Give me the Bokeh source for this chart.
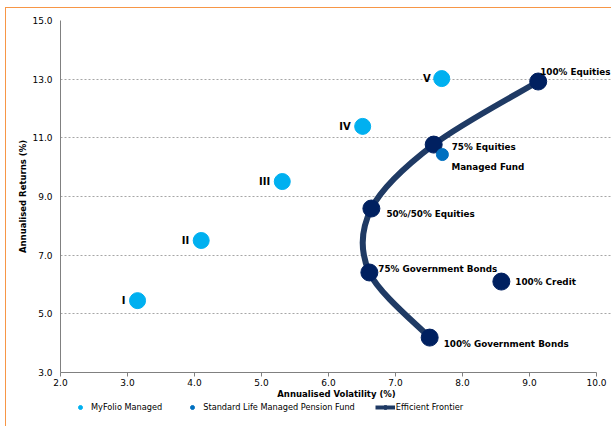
from bokeh.plotting import figure
from bokeh.layouts import column
from bokeh.models import (ColumnDataSource, FixedTicker, NumeralTickFormatter, Legend,
                          LegendItem, Range1d)
from bokeh.core.properties import value
from bokeh.embed import file_html
from bokeh.resources import INLINE

# ---- data ----
myfolio_labels = ["I", "II", "III", "IV", "V"]
myfolio_vol = [3.15, 4.10, 5.31, 6.51, 7.69]
myfolio_ret = [5.45, 7.50, 9.51, 11.39, 13.02]

managed_labels = ["Managed Fund"]
managed_vol = [7.70]
managed_ret = [10.43]

frontier_labels = ["100% Equities", "75% Equities", "50%/50% Equities",
                   "75% Government Bonds", "100% Government Bonds"]
frontier_vol = [9.13, 7.57, 6.64, 6.61, 7.51]
frontier_ret = [12.92, 10.77, 8.59, 6.41, 4.19]

credit_labels = ["100% Credit"]
credit_vol = [8.58]
credit_ret = [6.10]

x_ticks = [2, 3, 4, 5, 6, 7, 8, 9, 10]
y_ticks = [3, 5, 7, 9, 11, 13, 15]

# label offsets (screen px)
myfolio_dx = [-12, -12, -12, -12, -11]
myfolio_dy = [0, 0, 0, 0, 0]
frontier_dx = [2, 18, 15, 9, 14]
frontier_dy = [-10, 2, 5, -3, 6]

FONT = "DejaVu Sans"
NAVY = "#002060"
LINE = "#1F3A64"
LIGHT = "#00B0F0"
MID = "#0070C0"
ORANGE = "#F79646"
LBL = "8.8px"

# frame spans 10.0 at 536px per 8 units; extra room on the right for labels
x_end = 2 + 552 * 8 / 536

p = figure(width=606, height=394, x_range=Range1d(2, x_end), y_range=Range1d(3, 15),
           output_backend="svg", toolbar_location=None,
           min_border_left=54, min_border_right=0, min_border_top=12, min_border_bottom=30)
p.styles = {"margin-left": "5px", "margin-top": "7px",
            "border-left": "1px solid " + ORANGE, "border-top": "1px solid " + ORANGE}
p.outline_line_color = None
p.background_fill_color = "white"
p.border_fill_color = "white"

# axes
for ax in (p.xaxis[0], p.yaxis[0]):
    ax.axis_line_color = "#808080"
    ax.major_tick_line_color = "#808080"
    ax.minor_tick_line_color = None
    ax.major_label_text_font = FONT
    ax.major_label_text_font_size = "9px"
    ax.major_label_text_color = "#000000"
    ax.axis_label_text_font = FONT
    ax.axis_label_text_font_size = "8.5px"
    ax.axis_label_text_font_style = "bold"
    ax.axis_label_text_color = "#000000"
    ax.formatter = NumeralTickFormatter(format="0.0")
p.xaxis.ticker = FixedTicker(ticks=x_ticks)
p.yaxis.ticker = FixedTicker(ticks=y_ticks)
p.xaxis.bounds = (2, 10)
p.xaxis.major_tick_in = 0
p.xaxis.major_tick_out = 4
p.yaxis.major_tick_in = 0
p.yaxis.major_tick_out = 0
p.xaxis.axis_label = "Annualised Volatility (%)"
p.yaxis.axis_label = "Annualised Returns (%)"
p.xaxis.major_label_standoff = 2
p.xaxis.axis_label_standoff = 0
p.yaxis.major_label_standoff = 8
p.yaxis.axis_label_standoff = 1

p.xgrid.visible = False
p.ygrid.ticker = FixedTicker(ticks=y_ticks)
p.ygrid.bounds = (2, 10)
p.ygrid.grid_line_color = "#A6A6A6"
p.ygrid.grid_line_dash = "2 2"
p.ygrid.grid_line_width = 1

# efficient frontier smoothed curve (Bezier through data points)
n = len(frontier_vol)
bx0, by0, bx1, by1, bcx0, bcy0, bcx1, bcy1 = [], [], [], [], [], [], [], []
for i in range(n - 1):
    i0, i1, i2, i3 = max(i - 1, 0), i, i + 1, min(i + 2, n - 1)
    bx0.append(frontier_vol[i1]); by0.append(frontier_ret[i1])
    bx1.append(frontier_vol[i2]); by1.append(frontier_ret[i2])
    bcx0.append(frontier_vol[i1] + (frontier_vol[i2] - frontier_vol[i0]) / 6)
    bcy0.append(frontier_ret[i1] + (frontier_ret[i2] - frontier_ret[i0]) / 6)
    bcx1.append(frontier_vol[i2] - (frontier_vol[i3] - frontier_vol[i1]) / 6)
    bcy1.append(frontier_ret[i2] - (frontier_ret[i3] - frontier_ret[i1]) / 6)
bez_src = ColumnDataSource(dict(x0=bx0, y0=by0, x1=bx1, y1=by1,
                                cx0=bcx0, cy0=bcy0, cx1=bcx1, cy1=bcy1))
p.bezier(x0="x0", y0="y0", x1="x1", y1="y1", cx0="cx0", cy0="cy0",
         cx1="cx1", cy1="cy1", source=bez_src, line_color=LINE, line_width=6)

front_src = ColumnDataSource(dict(x=frontier_vol, y=frontier_ret, t=frontier_labels,
                                  dx=frontier_dx, dy=frontier_dy))
p.scatter("x", "y", source=front_src, size=17, fill_color=NAVY, line_color=NAVY)
p.text("x", "y", text="t", x_offset="dx", y_offset="dy", source=front_src,
       text_font=value(FONT), text_font_size=LBL, text_font_style="bold",
       text_baseline="middle", text_align="left", text_color="#000000")

credit_src = ColumnDataSource(dict(x=credit_vol, y=credit_ret, t=credit_labels))
p.scatter("x", "y", source=credit_src, size=17, fill_color=NAVY, line_color=NAVY)
p.text("x", "y", text="t", x_offset=14, y_offset=0, source=credit_src,
       text_font=value(FONT), text_font_size=LBL, text_font_style="bold",
       text_baseline="middle", text_align="left", text_color="#000000")

my_src = ColumnDataSource(dict(x=myfolio_vol, y=myfolio_ret, t=myfolio_labels,
                               dx=myfolio_dx, dy=myfolio_dy))
p.scatter("x", "y", source=my_src, size=16, fill_color=LIGHT, line_color=LIGHT)
p.text("x", "y", text="t", x_offset="dx", y_offset="dy", source=my_src,
       text_font=value(FONT), text_font_size="10px", text_font_style="bold",
       text_baseline="middle", text_align="right", text_color="#000000")

man_src = ColumnDataSource(dict(x=managed_vol, y=managed_ret, t=managed_labels))
p.scatter("x", "y", source=man_src, size=12, fill_color=MID, line_color=MID)
p.text("x", "y", text="t", x_offset=9, y_offset=12, source=man_src,
       text_font=value(FONT), text_font_size=LBL, text_font_style="bold",
       text_baseline="middle", text_align="left", text_color="#000000")

# ---- legend strip (own small figure, series drawn outside its visible range) ----
p2 = figure(width=606, height=25, x_range=Range1d(0, 1), y_range=Range1d(0, 1),
            output_backend="svg", toolbar_location=None,
            x_axis_type=None, y_axis_type=None,
            min_border_left=0, min_border_right=0, min_border_top=0, min_border_bottom=0)
p2.styles = {"margin-left": "5px", "border-left": "1px solid " + ORANGE}
p2.outline_line_color = None
p2.grid.visible = False
l_my = p2.scatter(myfolio_vol, myfolio_ret, size=16, fill_color=LIGHT, line_color=LIGHT)
l_man = p2.scatter(managed_vol, managed_ret, size=12, fill_color=MID, line_color=MID)
l_line = p2.line(frontier_vol, frontier_ret, line_color=LINE, line_width=4)
l_pt = p2.scatter(frontier_vol, frontier_ret, size=17, fill_color=LINE, line_color=LINE)

legend = Legend(items=[
    LegendItem(label="MyFolio Managed", renderers=[l_my]),
    LegendItem(label="Standard Life Managed Pension Fund", renderers=[l_man]),
    LegendItem(label="Efficient Frontier", renderers=[l_line, l_pt]),
], orientation="horizontal", location=(10, 14))
legend.label_text_font = FONT
legend.label_text_font_size = "8.2px"
legend.label_text_color = "#000000"
legend.glyph_width = 20
legend.glyph_height = 10
legend.label_height = 10
legend.label_standoff = 1
legend.spacing = 20
legend.padding = 0
legend.margin = 0
legend.border_line_color = None
legend.background_fill_alpha = 0
p2.add_layout(legend)

layout = column(p, p2, spacing=0)
open("out.html", "w").write(file_html(layout, INLINE))
